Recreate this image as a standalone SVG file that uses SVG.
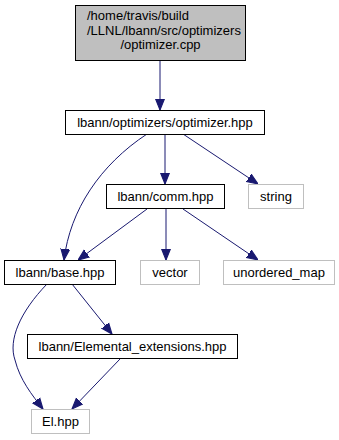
<svg xmlns="http://www.w3.org/2000/svg" width="339" height="440" viewBox="0 0 339 440">
<defs>
<style>
text { font-family: "Liberation Sans", Arial, sans-serif; font-size: 13px; fill: #000; }
.n rect { fill: #fff; stroke: #000; stroke-width: 1; }
.root rect { fill: #bfbfbf; }
.sys rect { fill: #fff; stroke: #bfbfbf; }
.e { fill: none; stroke: #191970; stroke-width: 1; marker-end: url(#ah); }
</style>
<marker id="ah" viewBox="0 0 10 10" refX="10" refY="5" markerWidth="11" markerHeight="11" markerUnits="userSpaceOnUse" orient="auto">
<path d="M0,1 L10,5 L0,9 Z" fill="#191970" stroke="#191970"/>
</marker>
</defs>
<rect width="339" height="440" fill="#fff"/>
<g id="edges">
<path class="e" d="M160,60 V110"/>
<path class="e" d="M165,134 V184"/>
<path class="e" d="M183,134 L258,184"/>
<path class="e" d="M147,134 C100,165 70,210 64,260"/>
<path class="e" d="M147,209 L78,260"/>
<path class="e" d="M166,209 V260"/>
<path class="e" d="M183,209 L258,260"/>
<path class="e" d="M72,284 L112,334"/>
<path class="e" d="M47,284 C20,312 8,340 15,360 C20,380 32,395 43,409"/>
<path class="e" d="M120,359 L72,409"/>
</g>
<g id="node_optimizer_cpp" class="n root">
<rect x="75.5" y="5.5" width="170" height="55"/>
<text x="87" y="20">/home/travis/build</text>
<text x="87" y="34.5">/LLNL/lbann/src/optimizers</text>
<text x="160.5" y="49" text-anchor="middle">/optimizer.cpp</text>
</g>
<g id="node_optimizer_hpp" class="n">
<rect x="65.5" y="110.5" width="199" height="24"/>
<text x="165" y="127" text-anchor="middle">lbann/optimizers/optimizer.hpp</text>
</g>
<g id="node_comm_hpp" class="n">
<rect x="106.5" y="184.5" width="118" height="24"/>
<text x="165.5" y="201" text-anchor="middle">lbann/comm.hpp</text>
</g>
<g id="node_string" class="n sys">
<rect x="248.5" y="184.5" width="55" height="24"/>
<text x="276" y="201" text-anchor="middle">string</text>
</g>
<g id="node_base_hpp" class="n">
<rect x="4.5" y="260.5" width="111" height="24"/>
<text x="60" y="277" text-anchor="middle">lbann/base.hpp</text>
</g>
<g id="node_vector" class="n sys">
<rect x="140.5" y="260.5" width="59" height="24"/>
<text x="170" y="277" text-anchor="middle">vector</text>
</g>
<g id="node_unordered_map" class="n sys">
<rect x="223.5" y="260.5" width="111" height="24"/>
<text x="279" y="277" text-anchor="middle">unordered_map</text>
</g>
<g id="node_elemental_extensions" class="n">
<rect x="27.5" y="334.5" width="210" height="24"/>
<text x="132.5" y="351" text-anchor="middle">lbann/Elemental_extensions.hpp</text>
</g>
<g id="node_el_hpp" class="n sys">
<rect x="31.5" y="409.5" width="58" height="24"/>
<text x="60.5" y="426" text-anchor="middle">El.hpp</text>
</g>
</svg>
